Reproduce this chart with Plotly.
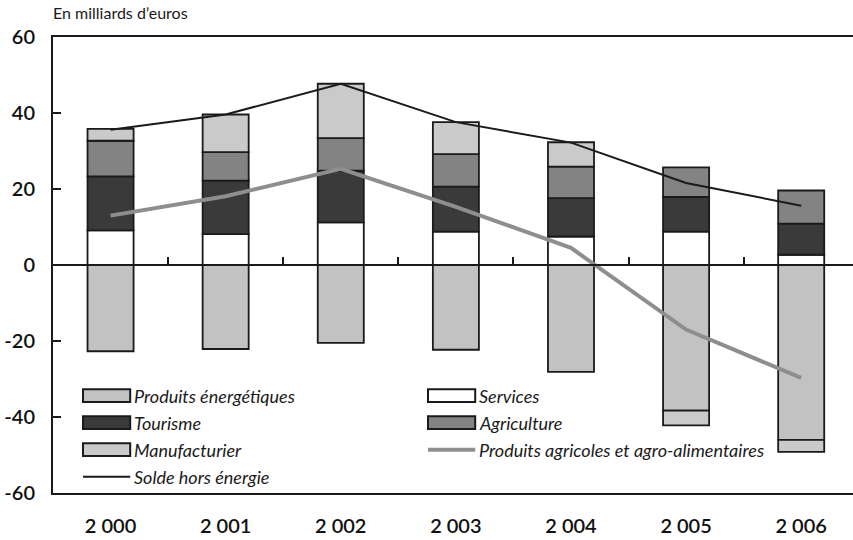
import plotly.graph_objects as go

# Years (tick labels) and balances by component, in billions of euros
years = ["2 000", "2 001", "2 002", "2 003", "2 004", "2 005", "2 006"]
services = [9.1, 8.1, 11.2, 8.8, 7.5, 8.8, 2.7]
tourisme = [14.2, 14.1, 13.6, 11.8, 10.1, 9.1, 8.2]
agriculture = [9.4, 7.5, 8.6, 8.6, 8.3, 7.8, 8.7]
energie = [-22.7, -22.1, -20.5, -22.3, -28.1, -38.3, -46.0]
manufacturier = [3.1, 9.9, 14.3, 8.4, 6.4, -3.9, -3.2]
solde_hors_energie = [35.6, 39.6, 47.7, 37.6, 32.2, 21.6, 15.6]
agro_alimentaire = [13.0, 18.1, 25.3, 15.3, 4.5, -17.0, -29.7]

y_ticks = [-60, -40, -20, 0, 20, 40, 60]
y_ticktext = ["-60", "-40", "-20", "0", "20", "40", "60"]

pos = list(range(len(years)))

FONT = "Lato"
INK = "#1a1a1a"
C_SERV = "#ffffff"
C_TOUR = "#3a3a3a"
C_AGRI = "#838383"
C_ENER = "#c2c2c2"
C_MANU = "#cacaca"
C_AGRO = "#8e8e8e"

fig = go.Figure()

bar_style = dict(width=0.4, marker_line=dict(color=INK, width=1.8), showlegend=False)
# stacking order: positives build up Services -> Tourisme -> Agriculture -> Manufacturier,
# negatives build down Energie -> Manufacturier
fig.add_trace(go.Bar(x=pos, y=services, name="Services", marker_color=C_SERV, **bar_style))
fig.add_trace(go.Bar(x=pos, y=tourisme, name="Tourisme", marker_color=C_TOUR, **bar_style))
fig.add_trace(go.Bar(x=pos, y=agriculture, name="Agriculture", marker_color=C_AGRI, **bar_style))
fig.add_trace(go.Bar(x=pos, y=energie, name="Produits énergétiques", marker_color=C_ENER, **bar_style))
fig.add_trace(go.Bar(x=pos, y=manufacturier, name="Manufacturier", marker_color=C_MANU, **bar_style))

fig.add_trace(go.Scatter(x=pos, y=agro_alimentaire, mode="lines", xaxis="x2",
                         name="Produits agricoles et agro-alimentaires",
                         line=dict(color=C_AGRO, width=4), showlegend=False))
fig.add_trace(go.Scatter(x=pos, y=solde_hors_energie, mode="lines", xaxis="x2",
                         name="Solde hors énergie",
                         line=dict(color=INK, width=2), showlegend=False))

# hand-built legend: wide swatches, two columns, inside the plot
legend_rows = [
    ("Produits énergétiques", "bar", C_ENER, 0, 0),
    ("Services", "bar", C_SERV, 1, 0),
    ("Tourisme", "bar", C_TOUR, 0, 1),
    ("Agriculture", "bar", C_AGRI, 1, 1),
    ("Manufacturier", "bar", C_MANU, 0, 2),
    ("Produits agricoles et agro-alimentaires", "thick", C_AGRO, 1, 2),
    ("Solde hors énergie", "thin", INK, 0, 3),
]
col_x0 = [0.0375, 0.46875]
sw_w = 0.059
row_y = [0.2134, 0.1542, 0.0950, 0.0357]
half_h = 0.0140
shapes = []
annotations = []
for label, kind, color, col, row in legend_rows:
    x0 = col_x0[col]
    y = row_y[row]
    if kind == "bar":
        shapes.append(dict(type="rect", xref="paper", yref="paper",
                           x0=x0, x1=x0 + sw_w, y0=y - half_h, y1=y + half_h,
                           fillcolor=color, line=dict(color=INK, width=2)))
    else:
        shapes.append(dict(type="line", xref="paper", yref="paper",
                           x0=x0, x1=x0 + sw_w, y0=y, y1=y,
                           line=dict(color=color, width=4 if kind == "thick" else 2)))
    annotations.append(dict(text=f"<i>{label}</i>", xref="paper", yref="paper",
                            x=x0 + sw_w + 0.002, y=y, xanchor="left", yanchor="middle",
                            showarrow=False, font=dict(family=FONT, size=18, color=INK)))

annotations.append(dict(text="En milliards d’euros", xref="paper", yref="paper",
                        x=-0.003, y=1.053, xanchor="left", yanchor="middle",
                        showarrow=False, font=dict(family=FONT, size=16, color=INK)))

fig.update_layout(
    width=853, height=540,
    margin=dict(l=53, r=0, t=37, b=47),
    paper_bgcolor="white", plot_bgcolor="white",
    barmode="relative", bargap=0.6,
    font=dict(family=FONT, color=INK),
    shapes=shapes, annotations=annotations,
    xaxis=dict(range=[-0.5, 6.45], tickvals=pos, ticktext=years,
               showgrid=False, zeroline=False,
               showline=True, linecolor=INK, linewidth=2, mirror=True,
               ticks="", ticklabelstandoff=14,
               tickfont=dict(family=FONT, size=20, color="#111111", weight=600)),
    xaxis2=dict(overlaying="x", matches="x", anchor="free", position=0.5,
                tickvals=[p + 0.5 for p in pos[:-1]], ticks="inside", ticklen=7,
                tickwidth=2, tickcolor=INK, showticklabels=False,
                showline=True, linecolor=INK, linewidth=2,
                showgrid=False, zeroline=False),
    yaxis=dict(range=[-60, 60], tickvals=y_ticks, ticktext=y_ticktext,
               showgrid=False, zeroline=False,
               showline=True, linecolor=INK, linewidth=2,
               ticks="inside", ticklen=8, tickwidth=2, tickcolor=INK,
               ticklabelstandoff=12,
               tickfont=dict(family=FONT, size=20, color="#111111", weight=600)),
)

fig.write_html("out.html")
